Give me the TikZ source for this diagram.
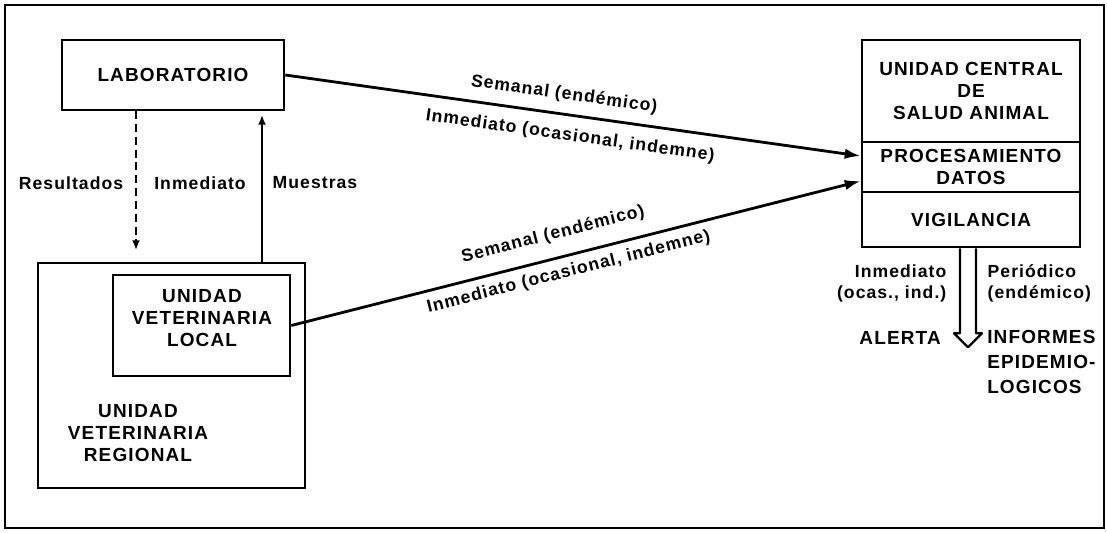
\documentclass[tikz,border=0pt]{standalone}
\usepackage{fontspec}
\setmainfont{Liberation Sans}[LetterSpace=6]
\usetikzlibrary{arrows.meta,positioning,calc}

\begin{document}
\begin{tikzpicture}[x=0.025cm, y=-0.025cm,
    unit/.style={draw, line width=1.8pt, align=center, inner sep=0pt, font=\bfseries\fontsize{13.5}{15.6}\selectfont},
    tag/.style={align=center, inner sep=1pt, font=\bfseries\fontsize{12.5}{15}\selectfont},
    link/.style={-{Latex[length=4mm,width=2.6mm]}, line width=2pt},
    feed/.style={-{Latex[length=2.4mm,width=2mm]}, line width=1.4pt}
  ]
    \useasboundingbox (0,0) rectangle (1107,533);
    \draw[line width=1.2pt] (5,5) rectangle (1104,528);

    \node[unit, minimum width=5.55cm, minimum height=1.75cm] (lab) at (173,75) {LABORATORIO};
    \node[unit, minimum width=6.675cm, minimum height=5.625cm] (regional) at (171.5,375.5) {};
    \node[unit, minimum width=4.425cm, minimum height=2.525cm] (local) at (201.5,325.5) {};
    \node[unit, draw=none] (localtext) at (202,318) {UNIDAD\\VETERINARIA\\LOCAL};
    \node[unit, draw=none] (regtext) at (138,433) {UNIDAD\\VETERINARIA\\REGIONAL};

    \node[unit, minimum width=5.45cm, minimum height=2.55cm] (central) at (971,91) {UNIDAD CENTRAL\\DE\\SALUD ANIMAL};
    \node[unit, minimum width=5.45cm, minimum height=1.25cm] (proc) at (971,167) {PROCESAMIENTO\\DATOS};
    \node[unit, minimum width=5.45cm, minimum height=1.375cm] (vig) at (971,219.5) {VIGILANCIA};

    \coordinate (resultsend) at (136,250);
    \coordinate (samplestop) at (262,115);
    \draw[feed, dash pattern=on 0.2cm off 0.12cm] (lab.south -| resultsend) -- (resultsend);
    \draw[feed] (regional.north -| samplestop) -- (samplestop);

    \node[tag] (results) at (71,183) {Resultados};
    \node[tag] (urgent) at (200,183) {Inmediato};
    \node[tag] (samples) at (315,183) {Muestras};

    \draw[link] (lab.east) -- ($(proc.west)+(0,-11)$)
      node[tag, sloped, pos=0.48, above=6pt] (weekly1) {Semanal (endémico)}
      node[tag, sloped, pos=0.5, below=7pt] (now1) {Inmediato (ocasional, indemne)};
    \draw[link] (local.east) -- ($(proc.west)+(0,14)$)
      node[tag, sloped, pos=0.47, above=9pt] (weekly2) {Semanal (endémico)}
      node[tag, sloped, pos=0.48, below=4pt] (now2) {Inmediato (ocasional, indemne)};

    \draw[line width=1.6pt, line join=round]
      ($(vig.south)+(-11,0)$) -- ++(0,85) -- ++(-6,0) -- ++(14,14) -- ++(14,-14) -- ++(-6,0) -- ($(vig.south)+(5,0)$);

    \node[tag, align=right, anchor=east] (alarmnote) at (948,283) {Inmediato\\(ocas., ind.)};
    \node[tag, align=left, anchor=west] (reportnote) at (986,283) {Periódico\\(endémico)};
    \node[unit, draw=none, anchor=east] (alert) at (942,338) {ALERTA};
    \node[unit, draw=none, align=left, anchor=west, font=\bfseries\fontsize{13.5}{17.5}\selectfont] (reports) at (986,362) {INFORMES\\EPIDEMIO-\\LOGICOS};
  \end{tikzpicture}
\end{document}
